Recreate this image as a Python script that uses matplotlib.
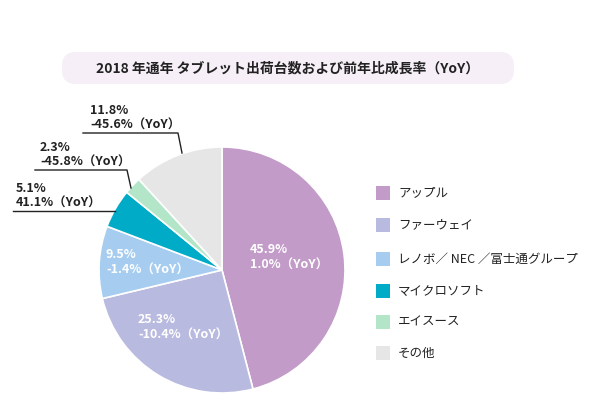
import matplotlib
matplotlib.use("Agg")
import matplotlib.pyplot as plt
from matplotlib.patches import FancyBboxPatch, Rectangle

plt.rcParams['font.family'] = ['Noto Sans CJK JP', 'DejaVu Sans']

labels = ["アップル", "ファーウェイ", "レノボ／ NEC ／富士通グループ", "マイクロソフト", "エイスース", "その他"]
shares = [45.9, 25.3, 9.5, 5.1, 2.3, 11.8]
yoy = ["1.0%", "-10.4%", "-1.4%", "41.1%", "-45.8%", "-45.6%"]
colors = ["#c29bc8", "#b9badf", "#a6cdf0", "#00abc8", "#b3e6c9", "#e6e6e6"]
title = "2018 年通年 タブレット出荷台数および前年比成長率（YoY）"

fig = plt.figure(figsize=(5.9, 4.19), dpi=100)
ax = fig.add_axes([0, 0, 1, 1])

cx, cy, r = 222, 270, 123
# y axis is inverted, so counterclock in data = clockwise on screen
wedges, _ = ax.pie(shares, colors=colors, startangle=-90, counterclock=True,
                   center=(cx, cy), radius=r, frame=True,
                   wedgeprops=dict(edgecolor='white', linewidth=1.2))
ax.set_xlim(0, 590)
ax.set_ylim(419, 0)
ax.set_aspect('equal')
ax.axis('off')

def lab(i):
    return f"{shares[i]}%\n{yoy[i]}（YoY）"

inside = {0: (250, 257), 1: (138, 327), 2: (106, 262)}
for i, (x, y) in inside.items():
    ax.text(x, y, lab(i), color='white', fontsize=9, fontweight='bold',
            ha='left', va='center', linespacing=1.25)

callouts = {5: (90, 133, 83, 178, 182, 153),
            4: (40, 170, 35, 127, 131, 188),
            3: (16, 211, 13, 112, 115, 211)}
for i, (tx, ty, x0, x1, ex, ey) in callouts.items():
    ax.text(tx, ty - 1, lab(i), color='#222222', fontsize=9, fontweight='bold',
            ha='left', va='bottom', linespacing=1.25)
    ax.plot([x0, x1, ex], [ty, ty, ey], color='#222222', lw=1)

box = FancyBboxPatch((62, 52), 452, 32, boxstyle="round,pad=0,rounding_size=14",
                     facecolor='#f6eff7', edgecolor='none')
ax.add_patch(box)
ax.text(288, 68, title, fontsize=10, fontweight='bold', ha='center', va='center',
        color='#222222')

ys = [193, 225, 259, 291, 322, 353]
for lbl, c, y in zip(labels, colors, ys):
    ax.add_patch(Rectangle((376, y - 7), 14, 14, facecolor=c, edgecolor='none'))
    ax.text(398, y, lbl, fontsize=9, ha='left', va='center', color='#222222')

fig.savefig("out.png", dpi=100)
